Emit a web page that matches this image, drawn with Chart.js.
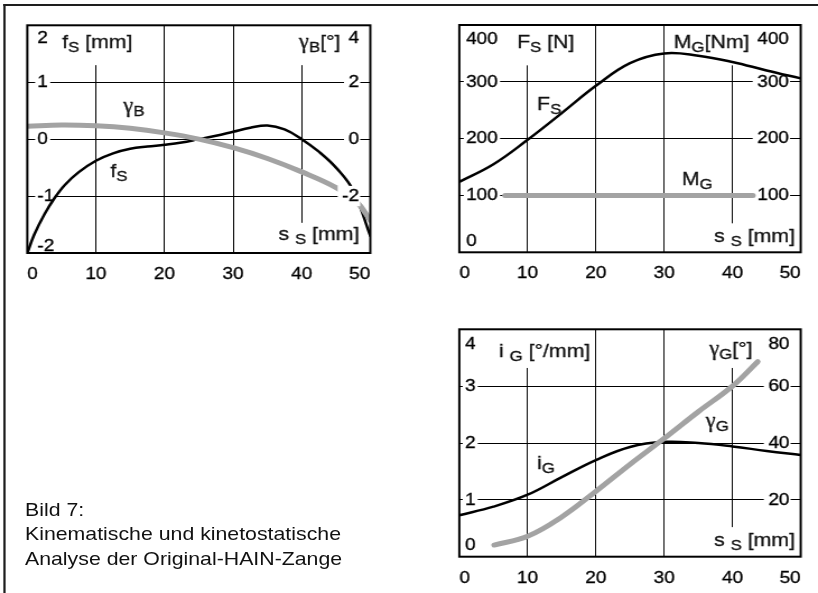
<!DOCTYPE html>
<html lang="de">
<head>
<meta charset="utf-8">
<title>Bild 7 – Analyse der Original-HAIN-Zange</title>
<script src="https://cdn.jsdelivr.net/npm/chart.js@4.4.1/dist/chart.umd.min.js"></script>
<style>
  html, body { margin: 0; padding: 0; background: #fff; }
  body { width: 818px; height: 593px; overflow: hidden; position: relative; }
  #sheet { position: absolute; left: 0; top: 0; width: 730px; height: 593px;
           transform: scaleX(1.1205479); transform-origin: 0 0; }
  #sheet canvas { position: absolute; left: 0; top: 0; width: 730px; height: 593px; }
  .rule-top  { position: absolute; left: 3.3px; top: 4px; width: 730px; height: 2px; background: #1e1e1e; }
  .rule-left { position: absolute; left: 3.3px; top: 4px; width: 1.6px; height: 600px; background: #1e1e1e; }
  #caption { position: absolute; left: 22.3px; top: 497.5px; color: #111; white-space: nowrap;
             font: 19px/24.5px "Liberation Sans", Arial, Helvetica, sans-serif; }
</style>
</head>
<body>
<div id="sheet">
  <div class="rule-top"></div>
  <div class="rule-left"></div>
  <canvas id="cFS" width="730" height="593"></canvas>
  <canvas id="cForce" width="730" height="593"></canvas>
  <canvas id="cGear" width="730" height="593"></canvas>
  <div id="caption">Bild 7:<br>Kinematische und kinetostatische<br>Analyse der Original-HAIN-Zange</div>
</div>
<script>
// ---- values -------------------------------------------------------------
// common abscissa: Schneidenweg s_S [mm]
const sTicks = [0, 10, 20, 30, 40, 50];

// Schneidenversatz f_S [mm] and Winkel gamma_B [°]
const sS_f   = [0, 1, 2.5, 4, 5.5, 7.5, 10, 12.5, 15, 17.5, 20, 22.5, 25, 27.5, 30, 32.5, 35, 37.5, 40, 42.5, 45, 47.5, 50];
const fS     = [-2.0, -1.68, -1.32, -1.03, -0.8, -0.58, -0.38, -0.25, -0.17, -0.13, -0.10, -0.06, 0.0, 0.06, 0.13, 0.20, 0.24, 0.17, 0.0, -0.22, -0.5, -0.9, -1.7];
const sS_gB  = [0, 5, 10, 15, 20, 25, 30, 35, 40, 45, 48, 50];
const gammaB = [0.45, 0.5, 0.47, 0.38, 0.22, 0.0, -0.3, -0.68, -1.15, -1.7, -2.2, -2.85];
const fTicks      = [-2, -1, 0, 1, 2];
const gammaBTicks = [-2, 0, 2, 4];

// Schneidkraft F_S [N] and Griffmoment M_G [Nm]
const sS_F  = [0, 5, 10, 15, 20, 25, 30, 35, 40, 45, 50];
const FS    = [124, 155, 198, 245, 293, 333, 350, 346, 335, 320, 306];
const sS_M  = [6.7, 43];
const MG    = [100, 100];
const FTicks = [0, 100, 200, 300, 400];
const MTicks = [100, 200, 300, 400];

// Übersetzung i_G [°/mm] and Griffwinkel gamma_G [°]
const sS_i   = [0, 5, 10, 15, 20, 25, 30, 35, 40, 45, 50];
const iG     = [0.73, 0.88, 1.09, 1.40, 1.70, 1.93, 2.02, 2.0, 1.94, 1.86, 1.79];
const sS_gG  = [5.1, 10, 15, 20, 25, 30, 35, 40, 43.7];
const gammaG = [4.1, 7.2, 14.0, 23.0, 32.5, 41.6, 51, 60, 68.6];
const iTicks      = [0, 1, 2, 3, 4];
const gammaGTicks = [20, 40, 60, 80];

// ---- drawing helpers ----------------------------------------------------
const W0 = 730;               // unscaled sheet width
const SX = 818 / W0;          // horizontal stretch of the sheet
const FONT = '"Liberation Sans", Arial, Helvetica, sans-serif';
const GREEK = '"Liberation Serif", "Times New Roman", serif';
const INK = '#000';
const GREY = '#a3a3a3';
const CLEAR = 'rgba(0,0,0,0)';
const MAIN = 19, SUB = 15, SUBDY = 4;
const TICK = 17;
const XH = 34;                // height reserved for the s_S tick labels

const pts = (xs, ys) => xs.map((x, i) => ({ x, y: ys[i] }));
const t = s => ({ t: s });
const sub = s => ({ t: s, sub: true });
const gamma = { t: 'γ', greek: true };

function curve(xs, ys, axis, color, width) {
  return {
    data: pts(xs, ys), yAxisID: axis,
    borderColor: color, borderWidth: width, borderCapStyle: 'round', borderJoinStyle: 'round',
    pointRadius: 0, fill: false, tension: 0.4
  };
}

function xAxis(guides) {
  return {
    type: 'linear', min: 0, max: 50,
    afterBuildTicks: s => { s.ticks = sTicks.map(v => ({ value: v })); },
    afterFit: s => { s.height = XH; s.paddingLeft = 0; s.paddingRight = 0; },
    border: { display: false },
    grid: {
      drawTicks: false, lineWidth: 1,
      color: c => {
        const v = c.tick ? c.tick.value : null;
        if (v === null || v <= 0 || v >= 50 || guides.some(g => g.x === v)) return CLEAR;
        return INK;
      }
    },
    ticks: { align: 'inner', padding: 11, color: INK, maxRotation: 0, autoSkip: false,
             textStrokeColor: INK, textStrokeWidth: 0.3,
             font: { family: FONT, size: TICK } }
  };
}

function yAxis(side, values, min, max, pad, edge, onTop) {
  const isEdge = c => c.tick && (c.tick.value === min || c.tick.value === max);
  return {
    type: 'linear', position: side, min, max,
    afterBuildTicks: s => { s.ticks = values.map(v => ({ value: v })); },
    afterFit: s => { s.width = 0; s.paddingTop = 0; s.paddingBottom = 0; },
    border: { display: false },
    grid: side === 'left'
      ? { drawTicks: false, lineWidth: 1,
          color: c => (c.tick && c.tick.value > min && c.tick.value < max) ? INK : CLEAR }
      : { display: false, drawTicks: false },
    ticks: {
      mirror: true, padding: pad, z: onTop ? 1 : 0, color: INK,
      textStrokeColor: INK, textStrokeWidth: 0.3,
      autoSkip: false,
      showLabelBackdrop: true,
      backdropColor: c => isEdge(c) ? CLEAR : '#fff',
      backdropPadding: side === 'left' ? { left: 2, right: 2, top: 0, bottom: 0 }
                                       : { left: 4, right: 1, top: 0, bottom: 0 },
      font: c => {
        const v = c.tick ? c.tick.value : null;
        let lh = 1.2;
        if (v === max) lh = edge.top + 'px';
        else if (v === min) lh = edge.bottom + 'px';
        return { family: FONT, size: TICK, lineHeight: lh };
      },
      callback: function (v) {
        const txt = String(v);
        if (v === this.max) return ['', txt];
        if (v === this.min) return [txt, ''];
        return txt;
      }
    }
  };
}

// partial grid lines, axis captions and curve names
const decor = {
  id: 'decor',
  beforeDatasetsDraw(chart, args, o) {
    const { ctx } = chart;
    const x = chart.scales.x, y = chart.scales.yl;
    ctx.save();
    ctx.strokeStyle = INK; ctx.lineWidth = 1;
    (o.guides || []).forEach(g => {
      const px = Math.round(x.getPixelForValue(g.x) + 0.5) - 0.5;
      ctx.beginPath();
      ctx.moveTo(px, y.getPixelForValue(g.from));
      ctx.lineTo(px, y.getPixelForValue(g.to));
      ctx.stroke();
    });
    ctx.fillStyle = '#111'; ctx.textBaseline = 'alphabetic'; ctx.textAlign = 'left';
    ctx.strokeStyle = '#111'; ctx.lineWidth = 0.3;
    (o.notes || []).forEach(n => {
      let px = x.getPixelForValue(n.x);
      const py = y.getPixelForValue(n.y);
      n.parts.forEach(p => {
        ctx.font = p.greek ? (MAIN + 1) + 'px ' + GREEK : (p.sub ? SUB : MAIN) + 'px ' + FONT;
        const py2 = py + (p.sub ? SUBDY : 0);
        ctx.fillText(p.t, px, py2);
        ctx.strokeText(p.t, px, py2);
        px += ctx.measureText(p.t).width;
      });
    });
    ctx.restore();
  },
  afterDraw(chart) {
    const { ctx, chartArea: a } = chart;
    ctx.save();
    ctx.strokeStyle = INK; ctx.lineWidth = 2;
    ctx.strokeRect(a.left, a.top, a.right - a.left, a.bottom - a.top);
    ctx.restore();
  }
};

function panel(id, frame, scales, datasets, guides, notes) {
  return new Chart(document.getElementById(id), {
    type: 'line',
    data: { datasets },
    options: {
      responsive: false, animation: false, devicePixelRatio: 1, events: [],
      layout: { padding: { left: frame.l / SX, right: W0 - frame.r / SX,
                           top: frame.t, bottom: 593 - frame.b - XH } },
      plugins: { legend: { display: false }, tooltip: { enabled: false },
                 decor: { guides, notes } },
      scales: Object.assign({ x: xAxis(guides) }, scales)
    },
    plugins: [decor]
  });
}

// ---- f_S and gamma_B ----------------------------------------------------
const guides1 = [{ x: 10, from: 1.3, to: -2 }, { x: 40, from: 1.3, to: -1.47 }];
panel('cFS', { l: 27.3, r: 370.3, t: 25.3, b: 253 }, {
  yl: yAxis('left', fTicks, -2, 2, 9, { top: 27, bottom: 14 }, false),
  yr: yAxis('right', gammaBTicks, -4, 4, -10, { top: 27, bottom: 14 }, true)
}, [
  curve(sS_gB, gammaB, 'yr', GREY, 5),
  curve(sS_f, fS, 'yl', INK, 2.5)
], guides1, [
  { x: 5.07, y: 1.60, parts: [t('f'), sub('S'), t(' [mm]')] },
  { x: 39.6, y: 1.60, parts: [gamma, sub('B'), t('[°]')] },
  { x: 14.0, y: 0.48, parts: [gamma, sub('B')] },
  { x: 12.1, y: -0.66, parts: [t('f'), sub('S')] },
  { x: 36.6, y: -1.78, parts: [t('s '), sub('S'), t(' [mm]')] }
]);

// ---- F_S and M_G ----------------------------------------------------------
const guides2 = [{ x: 10, from: 329, to: 0 }, { x: 40, from: 329, to: 51 }];
panel('cForce', { l: 459.3, r: 800.7, t: 25, b: 252.3 }, {
  yl: yAxis('left', FTicks, 0, 400, 6, { top: 28, bottom: 22 }, false),
  yr: yAxis('right', MTicks, 0, 400, -10.5, { top: 28, bottom: 22 }, false)
}, [
  curve(sS_M, MG, 'yr', GREY, 5),
  curve(sS_F, FS, 'yl', INK, 2.5)
], guides2, [
  { x: 8.45, y: 360, parts: [t('F'), sub('S'), t(' [N]')] },
  { x: 31.4, y: 360, parts: [t('M'), sub('G'), t('[Nm]')] },
  { x: 11.4, y: 250, parts: [t('F'), sub('S')] },
  { x: 32.6, y: 118.6, parts: [t('M'), sub('G')] },
  { x: 37.3, y: 18.7, parts: [t('s '), sub('S'), t(' [mm]')] }
]);

// ---- i_G and gamma_G ------------------------------------------------------
const guides3 = [{ x: 10, from: 3.32, to: 0 }, { x: 40, from: 3.32, to: 0.52 }];
panel('cGear', { l: 459.3, r: 800.7, t: 329.3, b: 556.7 }, {
  yl: yAxis('left', iTicks, 0, 4, 5, { top: 30, bottom: 22 }, false),
  yr: yAxis('right', gammaGTicks, 0, 80, -10, { top: 30, bottom: 22 }, false)
}, [
  curve(sS_gG, gammaG, 'yr', GREY, 5),
  curve(sS_i, iG, 'yl', INK, 2.5)
], guides3, [
  { x: 5.8, y: 3.52, parts: [t('i '), sub('G'), t(' [°/mm]')] },
  { x: 36.6, y: 3.55, parts: [gamma, sub('G'), t('[°]')] },
  { x: 36.1, y: 2.28, parts: [gamma, sub('G')] },
  { x: 11.4, y: 1.55, parts: [t('i'), sub('G')] },
  { x: 37.3, y: 0.18, parts: [t('s '), sub('S'), t(' [mm]')] }
]);
</script>
</body>
</html>
